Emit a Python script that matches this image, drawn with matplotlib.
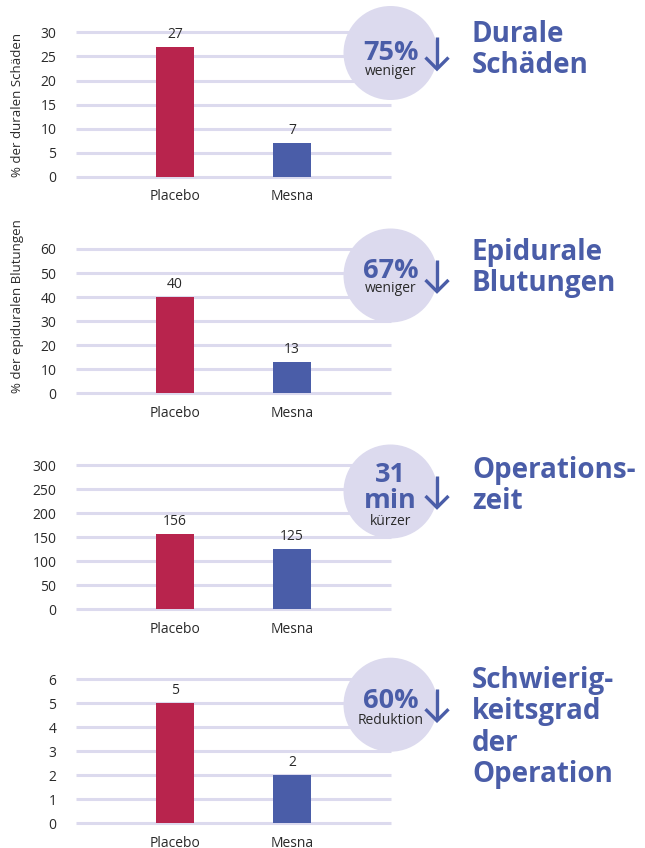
import matplotlib
matplotlib.use('Agg')
import matplotlib.pyplot as plt
import matplotlib.patches

plt.rcParams['font.family'] = ['Open Sans', 'DejaVu Sans']
plt.rcParams['font.size'] = 10

# --- data -------------------------------------------------------------
groups = ['Placebo', 'Mesna']
dural = [27, 7]
epidural = [40, 13]
op_time = [156, 125]
difficulty = [5, 2]

dural_ticks = [0, 5, 10, 15, 20, 25, 30]
epidural_ticks = [0, 10, 20, 30, 40, 50, 60]
op_time_ticks = [0, 50, 100, 150, 200, 250, 300]
difficulty_ticks = [0, 1, 2, 3, 4, 5, 6]

ylabels = ['% der duralen Schäden', '% der epiduralen Blutungen', '', '']
badge_big = [['75%'], ['67%'], ['31', 'min'], ['60%']]
badge_small = ['weniger', 'weniger', 'kürzer', 'Reduktion']
titles = [['Durale', 'Schäden'],
          ['Epidurale', 'Blutungen'],
          ['Operations-', 'zeit'],
          ['Schwierig-', 'keitsgrad', 'der', 'Operation']]

# --- style ------------------------------------------------------------
red = '#b8244d'
blue = '#4a5da8'
lavender = '#dcdaee'
dark = '#2a2a2a'

W, H = 645, 848
fig = plt.figure(figsize=(W / 100, H / 100), dpi=100)

# pixel rows of each panel: (top gridline, zero line)
rows = [(32.3, 177), (249, 393.3), (465, 609.3), (679.3, 823.3)]
x0, x1 = 76, 391
circle_y = [53, 275.5, 491.5, 704.7]
circle_r = 47
big_base = [[60], [278], [481.5, 508.3], [708]]
small_base = [75, 292, 525, 724]
title_base = [42, 260, 478, 688]

series = [dural, epidural, op_time, difficulty]
ticks = [dural_ticks, epidural_ticks, op_time_ticks, difficulty_ticks]


def px_axes(top, bottom):
    return fig.add_axes([x0 / W, 1 - bottom / H, (x1 - x0) / W, (bottom - top) / H])


for i, (vals, tk) in enumerate(zip(series, ticks)):
    ax = px_axes(*rows[i])
    ax.set_xlim(-0.846, 1.846)
    ax.set_ylim(tk[0], tk[-1])
    ax.hlines(tk, -0.846, 1.846, color=lavender, lw=2.2, zorder=0, clip_on=False)
    bars = ax.bar(range(len(groups)), vals, width=0.325, color=[red, blue], zorder=2)
    ax.bar_label(bars, labels=[str(v) for v in vals], padding=3.5, fontsize=10, color=dark)
    ax.set_yticks(tk)
    ax.set_xticks(range(len(groups)))
    ax.set_xticklabels(groups)
    ax.tick_params(axis='y', length=0, pad=14, labelsize=10, labelcolor=dark)
    ax.tick_params(axis='x', length=0, pad=9, labelsize=10, labelcolor=dark)
    for s in ax.spines.values():
        s.set_visible(False)
    ax.set_facecolor('none')
    if ylabels[i]:
        ax.set_ylabel(ylabels[i], ha='left', fontsize=9.5, color=dark)
        ax.yaxis.set_label_coords(-0.165, 0)

# overlay in pixel coordinates for badges and titles
ov = fig.add_axes([0, 0, 1, 1], zorder=10)
ov.set_xlim(0, W)
ov.set_ylim(H, 0)
ov.axis('off')

cx = 390.5
for i in range(4):
    cy = circle_y[i]
    ov.add_patch(matplotlib.patches.Circle((cx, cy), circle_r, facecolor=lavender,
                                           edgecolor='none'))
    for txt, yb in zip(badge_big[i], big_base[i]):
        ov.text(cx, yb, txt, ha='center', va='baseline', fontsize=19.5,
                fontweight='bold', color=blue)
    ov.text(cx, small_base[i], badge_small[i], ha='center', va='baseline',
            fontsize=10, color=dark)
    # down arrow
    ax_x = 437
    ov.plot([ax_x, ax_x], [cy - 16, cy + 15], color=blue, lw=2.4, solid_capstyle='butt')
    ov.plot([ax_x - 11.5, ax_x, ax_x + 11.5], [cy + 4.5, cy + 16, cy + 4.5], color=blue,
            lw=2.4, solid_joinstyle='miter', solid_capstyle='butt')
    for j, line in enumerate(titles[i]):
        ov.text(472, title_base[i] + j * 31.3, line, ha='left', va='baseline',
                fontsize=20, fontweight='bold', color=blue)

fig.savefig('out.png', dpi=100)
